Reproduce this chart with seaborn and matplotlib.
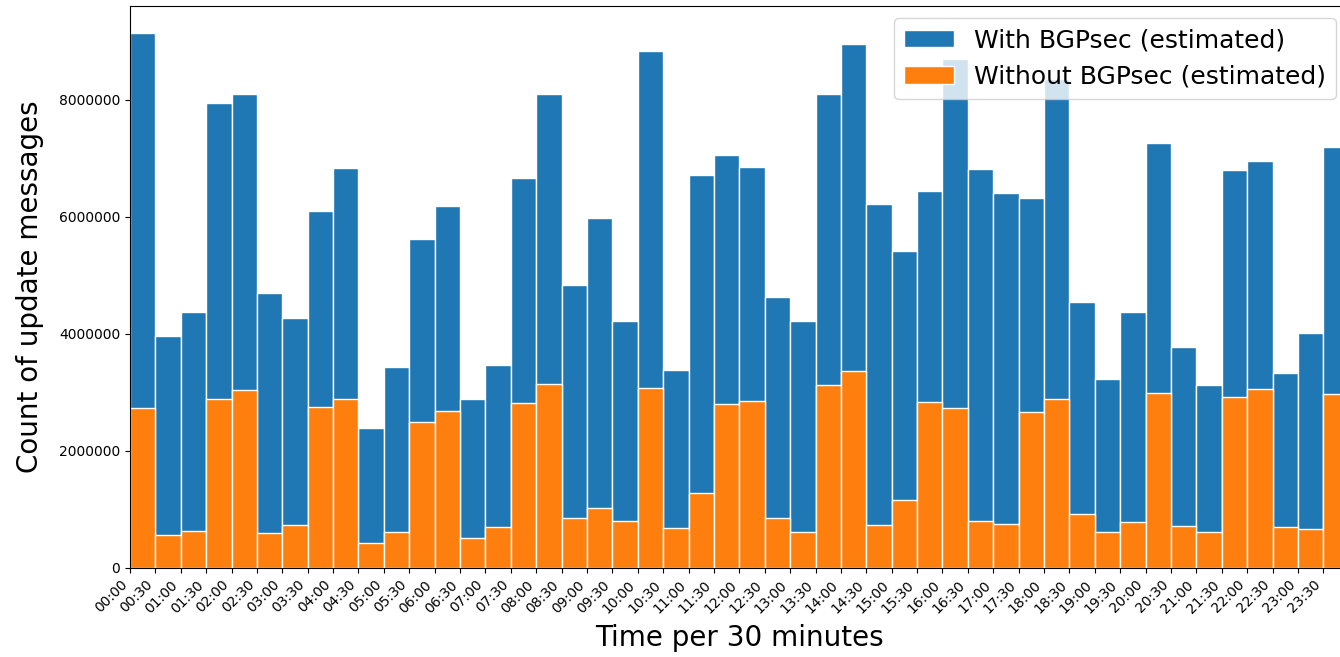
import numpy as np
import pandas as pd
import matplotlib
matplotlib.use("Agg")
import matplotlib.pyplot as plt
import seaborn as sns
from matplotlib.ticker import ScalarFormatter

time_labels = [f"{h:02d}:{m:02d}" for h in range(24) for m in (0, 30)]

with_bgpsec = [9.15, 3.97, 4.37, 7.94, 8.10, 4.70, 4.28, 6.11, 6.84, 2.39,
               3.43, 5.62, 6.19, 2.88, 3.47, 6.67, 8.10, 4.83, 5.99, 4.23,
               8.84, 3.38, 6.71, 7.06, 6.86, 4.64, 4.22, 8.11, 8.95, 6.22,
               5.42, 6.44, 8.70, 6.82, 6.41, 6.33, 8.35, 4.54, 3.23, 4.37,
               7.27, 3.78, 3.12, 6.81, 6.96, 3.33, 4.02, 7.19]
without_bgpsec = [2.73, 0.57, 0.63, 2.88, 3.05, 0.59, 0.73, 2.76, 2.89, 0.43,
                  0.62, 2.50, 2.69, 0.52, 0.70, 2.82, 3.15, 0.85, 1.02, 0.80,
                  3.07, 0.68, 1.28, 2.80, 2.86, 0.85, 0.62, 3.12, 3.36, 0.73,
                  1.17, 2.83, 2.73, 0.81, 0.75, 2.67, 2.88, 0.92, 0.61, 0.79,
                  2.99, 0.72, 0.61, 2.93, 3.06, 0.70, 0.67, 2.97]

n = len(time_labels)
df = pd.DataFrame({
    "slot": np.arange(n) + 0.5,
    "with": np.array(with_bgpsec) * 1e6,
    "without": np.array(without_bgpsec) * 1e6,
})

fig = plt.figure(figsize=(13.4, 6.57), dpi=100)
ax = fig.add_axes([0.097, 0.1355, 0.9095, 0.8555])

sns.histplot(data=df, x="slot", weights="with", binwidth=1, binrange=(0, n),
             ax=ax, color="#1f77b4", alpha=1, edgecolor="white", linewidth=1,
             label="With BGPsec (estimated)")
sns.histplot(data=df, x="slot", weights="without", binwidth=1, binrange=(0, n),
             ax=ax, color="#ff7f0e", alpha=1, edgecolor="white", linewidth=1,
             label="Without BGPsec (estimated)")

ax.set_xlim(0, n)
ax.set_ylim(0, max(df["with"]) * 1.05)
ax.set_xticks(np.arange(n))
ax.set_xticklabels(time_labels, rotation=45, ha="right", fontsize=10)
ax.set_yticks([0, 2e6, 4e6, 6e6, 8e6])
fmt = ScalarFormatter(useOffset=False)
fmt.set_scientific(False)
ax.yaxis.set_major_formatter(fmt)
ax.tick_params(axis="y", labelsize=10)
ax.set_xlabel("Time per 30 minutes", fontsize=20, labelpad=6)
ax.set_ylabel("Count of update messages", fontsize=20, labelpad=11)
ax.legend(loc="upper right", fontsize=18)

fig.savefig("out.png", dpi=100)
